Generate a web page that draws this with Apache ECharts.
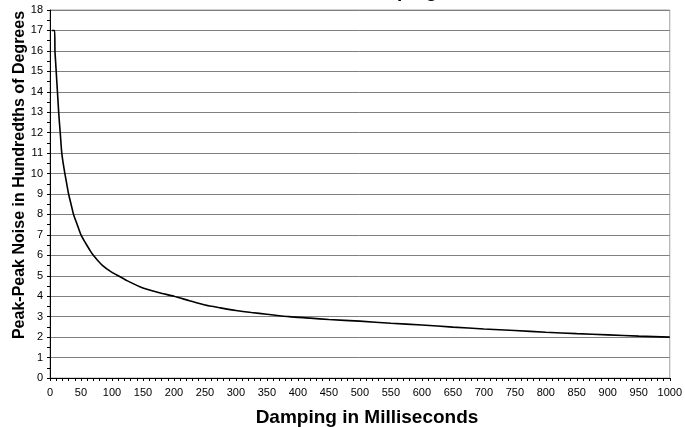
<!DOCTYPE html>
<html>
<head>
<meta charset="utf-8">
<script src="https://cdn.jsdelivr.net/npm/echarts@6/dist/echarts.min.js"></script>
<style>html,body{margin:0;padding:0;background:#fff;}#c{width:685px;height:427px;}</style>
</head>
<body>
<div id="c"></div>
<script>
var titleText = 'Noise vs. Damping';
var xName = 'Damping in Milliseconds';
var yName = 'Peak-Peak Noise in Hundredths of Degrees';
var dampingMs = [3, 7.5, 8, 9, 10, 11, 12, 13, 14, 15.2, 16.5, 17.7, 19, 21.3, 24, 27, 30, 34, 38, 44, 50, 55, 60, 65, 70, 77, 85, 97, 110, 125, 150, 175, 200, 225, 250, 275, 300, 325, 350, 386, 420, 450, 500, 550, 600, 650, 700, 750, 800, 850, 900, 950, 1000];
var noise = [17, 17, 16, 15.5, 15, 14.5, 14, 13.5, 13, 12.5, 12, 11.5, 11, 10.5, 10, 9.5, 9, 8.5, 8, 7.5, 7, 6.72, 6.47, 6.22, 6, 5.75, 5.5, 5.23, 5, 4.75, 4.4, 4.18, 4, 3.78, 3.57, 3.43, 3.3, 3.2, 3.12, 3, 2.93, 2.86, 2.78, 2.68, 2.59, 2.49, 2.4, 2.32, 2.24, 2.17, 2.11, 2.05, 2.0];

var pts = dampingMs.map(function (x, i) { return [x, noise[i]]; });
var font = 'Arial, "Liberation Sans", sans-serif';
var chart = echarts.init(document.getElementById('c'));
chart.setOption({
  animation: false,
  backgroundColor: '#fff',
  grid: { left: 50, right: 13, top: 10, bottom: 49, show: true, borderColor: '#a0a0a0', borderWidth: 1 },
  graphic: [
    { type: 'text', x: 437, y: 1.5, style: { text: titleText, font: 'bold 19px ' + font, fill: '#000', textAlign: 'right', textVerticalAlign: 'bottom' } },
    { type: 'text', x: 367, y: 418, style: { text: xName, font: 'bold 19px ' + font, fill: '#000', textAlign: 'center', textVerticalAlign: 'middle' } },
    { type: 'text', x: 20, y: 175, rotation: Math.PI / 2, style: { text: yName, font: 'bold 16px ' + font, fill: '#000', textAlign: 'center', textVerticalAlign: 'middle' } }
  ],
  xAxis: {
    type: 'value', min: 0, max: 1000, interval: 50,
    axisLine: { show: true, lineStyle: { color: '#000', width: 1 } },
    axisTick: { show: true, length: 3, lineStyle: { color: '#000' } },
    minorTick: { show: true, splitNumber: 5, length: 3, lineStyle: { color: '#000' } },
    splitLine: { show: false },
    axisLabel: { fontSize: 11, fontFamily: font, color: '#000', margin: 9, formatter: function (v) { return String(v); } }
  },
  yAxis: {
    type: 'value', min: 0, max: 18, interval: 1,
    axisLine: { show: true, lineStyle: { color: '#000', width: 1 } },
    axisTick: { show: true, length: 3, lineStyle: { color: '#000' } },
    minorTick: { show: true, splitNumber: 2, length: 3, lineStyle: { color: '#000' } },
    splitLine: { show: true, lineStyle: { color: '#808080', width: 1 } },
    axisLabel: { fontSize: 11, fontFamily: font, color: '#000', margin: 7 }
  },
  series: [{
    type: 'line', data: pts, showSymbol: false, symbol: 'none', smooth: 0.2,
    lineStyle: { color: '#000', width: 1.6 }
  }]
});
</script>
</body>
</html>
